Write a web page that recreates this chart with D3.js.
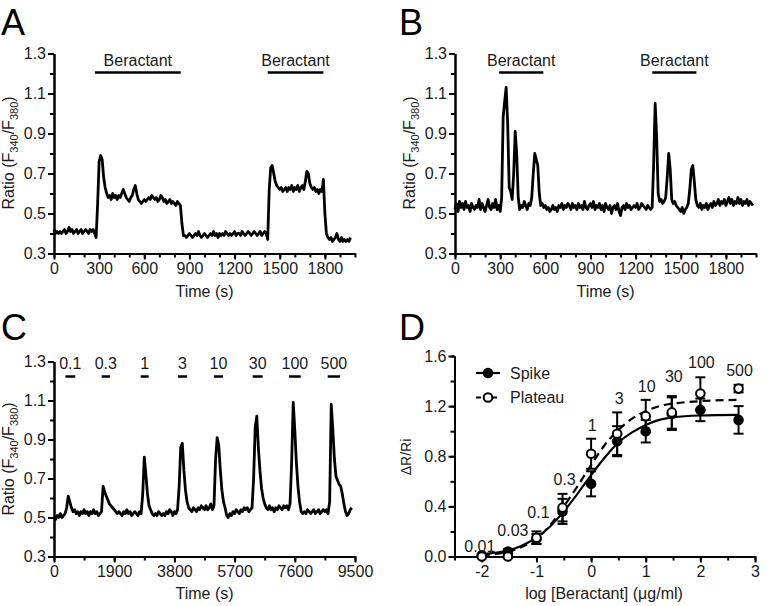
<!DOCTYPE html>
<html>
<head>
<meta charset="utf-8">
<script src="https://cdn.jsdelivr.net/npm/d3@7"></script>
<style>
  body { margin: 0; background: #fff; }
  svg { display: block; font-family: "Liberation Sans", Arial, sans-serif; }
  .axis path, .axis line { stroke: #000; stroke-width: 2; }
  .axis text { font-family: "Liberation Sans", Arial, sans-serif; font-size: 16px; fill: #1a1a1a; }
  .title { font-size: 16px; fill: #1a1a1a; }
  .letter { font-size: 36px; fill: #000; }
</style>
</head>
<body>
<svg width="773" height="606"></svg>
<script>
// ---- data ----

// A: ratio trace, one sample every 10 s
const dtA = 10
const traceA = [
  0.42,0.40,0.41,0.40,0.41,0.40,0.41,0.42,0.40,0.41,
  0.43,0.41,0.42,0.40,0.41,0.42,0.40,0.41,0.42,0.40,
  0.41,0.42,0.41,0.40,0.42,0.41,0.42,0.40,0.38,0.55,
  0.76,0.79,0.77,0.68,0.63,0.60,0.58,0.59,0.57,0.60,
  0.58,0.59,0.57,0.59,0.58,0.60,0.62,0.60,0.58,0.57,
  0.56,0.58,0.59,0.62,0.64,0.60,0.57,0.56,0.55,0.56,
  0.57,0.56,0.57,0.58,0.57,0.59,0.58,0.57,0.58,0.56,
  0.57,0.59,0.58,0.56,0.57,0.55,0.56,0.57,0.55,0.56,
  0.55,0.54,0.56,0.55,0.54,0.45,0.39,0.39,0.38,0.39,
  0.40,0.39,0.38,0.39,0.40,0.39,0.41,0.39,0.38,0.39,
  0.40,0.39,0.38,0.39,0.40,0.39,0.41,0.39,0.40,0.38,
  0.40,0.39,0.40,0.39,0.41,0.40,0.39,0.40,0.39,0.40,
  0.41,0.39,0.40,0.40,0.39,0.41,0.40,0.39,0.40,0.41,
  0.40,0.39,0.40,0.41,0.40,0.39,0.40,0.41,0.39,0.40,
  0.41,0.40,0.37,0.62,0.73,0.74,0.70,0.66,0.64,0.63,
  0.62,0.63,0.61,0.62,0.63,0.61,0.63,0.62,0.64,0.61,
  0.63,0.62,0.64,0.61,0.63,0.64,0.62,0.66,0.71,0.70,
  0.65,0.63,0.62,0.63,0.61,0.62,0.60,0.62,0.61,0.67,
  0.50,0.40,0.38,0.37,0.38,0.36,0.37,0.38,0.40,0.37,
  0.36,0.38,0.36,0.37,0.36,0.37,0.36,0.38
]
const beractantA = [[272, 842], [1420, 1790]]

// B: ratio trace, one sample every 10 s
const dtB = 10
const traceB = [
  0.52,0.55,0.51,0.56,0.53,0.55,0.52,0.56,0.53,0.54,
  0.51,0.55,0.53,0.52,0.54,0.53,0.57,0.52,0.55,0.53,
  0.51,0.54,0.57,0.53,0.52,0.55,0.53,0.57,0.52,0.54,
  0.51,0.58,0.98,1.06,1.13,0.95,0.63,0.61,0.57,0.70,
  0.91,0.80,0.58,0.52,0.54,0.53,0.56,0.54,0.52,0.55,
  0.54,0.58,0.70,0.80,0.77,0.74,0.60,0.54,0.55,0.53,
  0.54,0.52,0.53,0.51,0.52,0.54,0.52,0.53,0.51,0.54,
  0.53,0.55,0.52,0.54,0.53,0.55,0.54,0.52,0.55,0.53,
  0.54,0.52,0.55,0.53,0.54,0.52,0.56,0.53,0.52,0.54,
  0.55,0.53,0.56,0.52,0.54,0.53,0.55,0.52,0.54,0.51,
  0.55,0.53,0.52,0.54,0.50,0.53,0.54,0.52,0.55,0.51,
  0.49,0.53,0.54,0.52,0.55,0.53,0.54,0.52,0.53,0.54,
  0.53,0.55,0.52,0.53,0.55,0.54,0.53,0.52,0.54,0.53,
  0.52,0.53,0.75,1.05,0.88,0.60,0.56,0.57,0.55,0.56,
  0.58,0.68,0.80,0.72,0.57,0.55,0.56,0.54,0.53,0.52,
  0.51,0.53,0.50,0.52,0.53,0.55,0.62,0.72,0.74,0.66,
  0.57,0.54,0.53,0.55,0.52,0.54,0.53,0.55,0.52,0.54,
  0.55,0.53,0.56,0.54,0.55,0.57,0.54,0.56,0.55,0.57,
  0.54,0.56,0.58,0.55,0.57,0.54,0.56,0.55,0.58,0.55,
  0.57,0.54,0.56,0.55,0.57,0.54,0.56,0.55,0.54
]
const beractantB = [[293, 587], [1311, 1604]]

// C: ratio trace, one sample every 50 s
const dtC = 50
const traceC = [
  0.50,0.49,0.51,0.50,0.52,0.50,0.51,0.52,0.55,0.61,
  0.58,0.55,0.53,0.54,0.52,0.53,0.51,0.53,0.52,0.54,
  0.52,0.53,0.51,0.53,0.52,0.54,0.52,0.53,0.51,0.52,
  0.53,0.66,0.63,0.61,0.59,0.57,0.56,0.55,0.54,0.53,
  0.52,0.53,0.52,0.51,0.53,0.52,0.54,0.52,0.53,0.51,
  0.52,0.53,0.52,0.51,0.53,0.52,0.62,0.81,0.72,0.62,
  0.56,0.54,0.52,0.51,0.52,0.51,0.53,0.52,0.51,0.52,
  0.51,0.53,0.52,0.54,0.53,0.51,0.53,0.52,0.54,0.66,
  0.86,0.88,0.74,0.64,0.58,0.55,0.54,0.53,0.55,0.54,
  0.53,0.55,0.54,0.56,0.55,0.54,0.56,0.54,0.55,0.57,
  0.54,0.56,0.80,0.91,0.87,0.74,0.64,0.58,0.55,0.51,
  0.50,0.52,0.51,0.53,0.52,0.54,0.53,0.52,0.54,0.53,
  0.55,0.54,0.55,0.53,0.54,0.55,0.70,0.96,1.02,0.86,
  0.74,0.65,0.60,0.57,0.55,0.54,0.56,0.54,0.55,0.53,
  0.55,0.54,0.56,0.55,0.54,0.56,0.55,0.56,0.54,0.57,
  0.78,1.09,0.95,0.78,0.66,0.58,0.53,0.52,0.53,0.52,
  0.54,0.53,0.52,0.53,0.54,0.52,0.53,0.54,0.52,0.53,
  0.54,0.53,0.54,0.52,0.58,1.08,0.95,0.80,0.71,0.69,
  0.67,0.66,0.62,0.57,0.53,0.51,0.52,0.54,0.55
]
const doseLabelsC = ["0.1", "0.3", "1", "3", "10", "30", "100", "500"]
const doseWindowsC = [[360, 670], [1505, 1768], [2736, 2988], [3914, 4198],
                      [5050, 5335], [6271, 6587], [7417, 7787], [8638, 9027]]

// D: concentration-response (ug/ml), mean and SEM
const concentrations = [0.01, 0.03, 0.1, 0.3, 1, 3, 10, 30, 100, 500]
const spikeMean   = [0.01, 0.04, 0.14, 0.36, 0.58, 0.92, 1.00, 1.14, 1.17, 1.09]
const spikeSem    = [0.01, 0.02, 0.04, 0.10, 0.10, 0.12, 0.09, 0.13, 0.09, 0.11]
const plateauMean = [0.00, 0.00, 0.15, 0.39, 0.82, 0.98, 1.12, 1.15, 1.30, 1.34]
const plateauSem  = [0.00, 0.01, 0.05, 0.11, 0.12, 0.17, 0.13, 0.13, 0.13, 0.03]
// fitted curves as drawn in the figure
const fitLogX    = [-2, -1.75, -1.5, -1.25, -1, -0.75, -0.5, -0.25, 0, 0.25, 0.5, 0.75, 1, 1.25, 1.5, 2, 2.7]
const spikeFit   = [0.02, 0.03, 0.05, 0.09, 0.15, 0.24, 0.36, 0.50, 0.65, 0.79, 0.91, 0.99, 1.05, 1.09, 1.11, 1.125, 1.13]
const plateauFit = [0.01, 0.02, 0.04, 0.08, 0.14, 0.25, 0.40, 0.56, 0.73, 0.89, 1.01, 1.10, 1.16, 1.20, 1.22, 1.24, 1.25]

// tick values
const timeTicksAB = [0, 300, 600, 900, 1200, 1500, 1800]
const timeMinorAB = d3.range(0, 2001, 100)
const timeTicksC = [0, 1900, 3800, 5700, 7600, 9500]
const timeMinorC = d3.range(0, 9501, 950)
const ratioTicks = [0.3, 0.5, 0.7, 0.9, 1.1, 1.3]
const ratioMinor = [0.3, 0.4, 0.5, 0.6, 0.7, 0.8, 0.9, 1.0, 1.1, 1.2, 1.3]
const logTicksD = [-2, -1, 0, 1, 2, 3]
const logMinorD = [-2.5, -2, -1.5, -1, -0.5, 0, 0.5, 1, 1.5, 2, 2.5, 3]
const dRTicks = [0.0, 0.4, 0.8, 1.2, 1.6]
const dRMinor = [0.0, 0.2, 0.4, 0.6, 0.8, 1.0, 1.2, 1.4, 1.6]

// ---- drawing ----
const svg = d3.select("svg")
svg.append("rect").attr("width", 773).attr("height", 606).attr("fill", "#fff")

function drawAxes(x, y, xMinor, xMajor, yMinor, yMajor, xFmt, yFmt){
    const bottom = y.range()[0], left = x.range()[0]
    svg.append("g").attr("class", "axis")
        .attr("transform", `translate(0,${bottom})`)
        .call(d3.axisBottom(x).tickValues(xMinor).tickSize(4).tickFormat("").tickSizeOuter(0))
    svg.append("g").attr("class", "axis")
        .attr("transform", `translate(0,${bottom})`)
        .call(d3.axisBottom(x).tickValues(xMajor).tickSize(6).tickPadding(3).tickFormat(xFmt).tickSizeOuter(0))
    svg.append("g").attr("class", "axis")
        .attr("transform", `translate(${left},0)`)
        .call(d3.axisLeft(y).tickValues(yMinor).tickSize(4).tickFormat("").tickSizeOuter(0))
    svg.append("g").attr("class", "axis")
        .attr("transform", `translate(${left},0)`)
        .call(d3.axisLeft(y).tickValues(yMajor).tickSize(6).tickPadding(2).tickFormat(yFmt).tickSizeOuter(0))
}

function ratioTitle(cx, cy){
    const t = svg.append("text").attr("class", "title")
        .attr("transform", `translate(${cx},${cy}) rotate(-90)`)
        .attr("text-anchor", "middle")
    t.append("tspan").text("Ratio (F")
    t.append("tspan").attr("dy", 4).attr("font-size", "11px").text("340")
    t.append("tspan").attr("dy", -4).text("/F")
    t.append("tspan").attr("dy", 4).attr("font-size", "11px").text("380")
    t.append("tspan").attr("dy", -4).text(")")
}

function letter(txt, x, y){
    svg.append("text").attr("class", "letter").attr("x", x).attr("y", y).text(txt)
}

function drawTrace(values, dt, x, y){
    const line = d3.line()
        .x((d, i) => x(i * dt))
        .y(d => y(d))
    svg.append("path").datum(values)
        .attr("d", line)
        .attr("fill", "none")
        .attr("stroke", "#000")
        .attr("stroke-width", 2.8)
        .attr("stroke-linejoin", "round")
}

const fmtTime = d => String(d)
const fmtRatio = d3.format(".1f")

// panel A and B share layout
function tracePanel(left, values, dt, bars, name, lx){
    const x = d3.scaleLinear([0, 2000], [left, left + 301])
    const y = d3.scaleLinear([0.3, 1.3], [253.5, 53.5])
    drawAxes(x, y, timeMinorAB, timeTicksAB, ratioMinor, ratioTicks, fmtTime, fmtRatio)
    drawTrace(values, dt, x, y)
    bars.forEach(b => {
        svg.append("line")
            .attr("x1", x(b[0])).attr("x2", x(b[1]))
            .attr("y1", 72.5).attr("y2", 72.5)
            .attr("stroke", "#000").attr("stroke-width", 2.5)
        svg.append("text").attr("class", "title")
            .attr("x", (x(b[0]) + x(b[1])) / 2).attr("y", 65.5)
            .attr("text-anchor", "middle").text("Beractant")
    })
    svg.append("text").attr("class", "title")
        .attr("x", (x.range()[0] + x.range()[1]) / 2).attr("y", 297)
        .attr("text-anchor", "middle").text("Time (s)")
    ratioTitle(left - 40, 153)
    letter(name, lx, 35)
}

tracePanel(54, traceA, dtA, beractantA, "A", 1)
tracePanel(455, traceB, dtB, beractantB, "B", 399)

// panel C
{
    const x = d3.scaleLinear([0, 9500], [54, 355])
    const y = d3.scaleLinear([0.3, 1.3], [556.5, 361.5])
    drawAxes(x, y, timeMinorC, timeTicksC, ratioMinor, ratioTicks, fmtTime, fmtRatio)
    drawTrace(traceC, dtC, x, y)
    doseWindowsC.forEach((w, i) => {
        svg.append("line")
            .attr("x1", x(w[0])).attr("x2", x(w[1]))
            .attr("y1", 376.5).attr("y2", 376.5)
            .attr("stroke", "#000").attr("stroke-width", 2.5)
        svg.append("text").attr("class", "title")
            .attr("x", (x(w[0]) + x(w[1])) / 2).attr("y", 369)
            .attr("text-anchor", "middle").text(doseLabelsC[i])
    })
    svg.append("text").attr("class", "title")
        .attr("x", 204.5).attr("y", 599)
        .attr("text-anchor", "middle").text("Time (s)")
    ratioTitle(14, 459)
    letter("C", 1, 340)
}

// panel D
{
    const x = d3.scaleLinear([-2.5, 3], [454.5, 755])
    const y = d3.scaleLinear([0, 1.6], [556.5, 356])
    drawAxes(x, y, logMinorD, logTicksD, dRMinor, dRTicks, d => String(d), d3.format(".1f"))

    const logX = concentrations.map(c => Math.log10(c))

    const fitLine = d3.line().curve(d3.curveMonotoneX)
        .x((d, i) => x(fitLogX[i]))
        .y(d => y(d))
    svg.append("path").datum(spikeFit).attr("d", fitLine)
        .attr("fill", "none").attr("stroke", "#000").attr("stroke-width", 2.2)
    svg.append("path").datum(plateauFit).attr("d", fitLine)
        .attr("fill", "none").attr("stroke", "#000").attr("stroke-width", 2.2)
        .attr("stroke-dasharray", "8,5")

    const series = [
        {mean: spikeMean, sem: spikeSem, fill: "#000"},
        {mean: plateauMean, sem: plateauSem, fill: "#fff"}
    ]
    series.forEach(s => {
        const g = svg.append("g").attr("stroke", "#000").attr("stroke-width", 2)
        s.mean.forEach((m, i) => {
            const cx = x(logX[i]), lo = y(m - s.sem[i]), hi = y(m + s.sem[i])
            g.append("line").attr("x1", cx).attr("x2", cx).attr("y1", lo).attr("y2", hi)
            g.append("line").attr("x1", cx - 5).attr("x2", cx + 5).attr("y1", lo).attr("y2", lo)
            g.append("line").attr("x1", cx - 5).attr("x2", cx + 5).attr("y1", hi).attr("y2", hi)
        })
    })
    series.forEach(s => {
        svg.append("g").selectAll("circle")
            .data(s.mean)
            .join("circle")
            .attr("cx", (d, i) => x(logX[i]))
            .attr("cy", d => y(d))
            .attr("r", 4.3)
            .attr("fill", s.fill)
            .attr("stroke", "#000")
            .attr("stroke-width", 2)
    })

    // concentration labels above the highest error bar, hand-nudged like the figure
    const nudge = [[-2, 7], [5, -4], [2, -4], [2, 0], [1, 1], [2, 1], [1, 1], [2, -5], [1, 0], [1, 0]]
    svg.append("g").selectAll("text")
        .data(concentrations)
        .join("text")
        .attr("class", "title")
        .attr("text-anchor", "middle")
        .attr("x", (d, i) => x(logX[i]) + nudge[i][0])
        .attr("y", (d, i) => y(Math.max(spikeMean[i] + spikeSem[i], plateauMean[i] + plateauSem[i])) - 9 + nudge[i][1])
        .text(d => String(d))

    // legend
    const legend = [
        {label: "Spike", fill: "#000", dash: null, y: 373},
        {label: "Plateau", fill: "#fff", dash: "5,3", y: 397.5}
    ]
    legend.forEach(l => {
        svg.append("line").attr("x1", 476).attr("x2", 500).attr("y1", l.y).attr("y2", l.y)
            .attr("stroke", "#000").attr("stroke-width", 2.2).attr("stroke-dasharray", l.dash)
        svg.append("circle").attr("cx", 488).attr("cy", l.y).attr("r", 4.3)
            .attr("fill", l.fill).attr("stroke", "#000").attr("stroke-width", 2)
        svg.append("text").attr("class", "title").attr("x", 510).attr("y", l.y + 5.5).text(l.label)
    })

    svg.append("text").attr("class", "title")
        .attr("x", 604).attr("y", 599)
        .attr("text-anchor", "middle").text("log [Beractant] (μg/ml)")
    svg.append("text").attr("class", "title").style("font-size", "14px")
        .attr("transform", "translate(411,457) rotate(-90)")
        .attr("text-anchor", "middle").text("ΔR/Ri")
    letter("D", 399, 340)
}
</script>
</body>
</html>
